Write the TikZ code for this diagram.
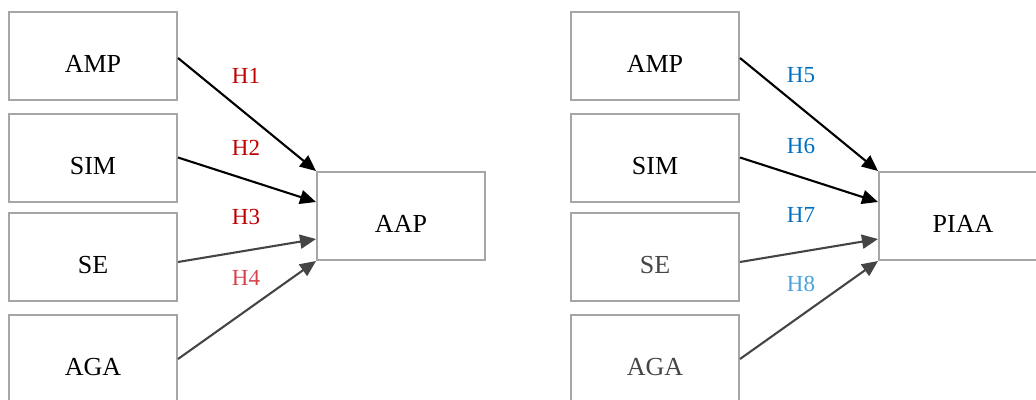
\documentclass[tikz,border=0pt]{standalone}
\usepackage{fontspec}
\setmainfont{Liberation Serif}
\usetikzlibrary{arrows.meta}
\definecolor{boxgray}{HTML}{A6A6A6}
\definecolor{hred}{HTML}{C00000}
\definecolor{hredlt}{HTML}{D6454C}
\definecolor{hblue}{HTML}{0070C0}
\definecolor{hbluelt}{HTML}{4BA3DA}
\definecolor{arrgray}{HTML}{454545}
\begin{document}
\begin{tikzpicture}[x=1pt,y=-1pt,
  vbox/.style={draw=boxgray,line width=2pt,minimum width=168pt,minimum height=88pt,
    inner sep=0pt,text height=33pt,text depth=0pt,font=\fontsize{26}{30}\selectfont},
  hlab/.style={font=\fontsize{23}{27}\selectfont,inner sep=0pt},
  conn/.style={line width=2.1pt,-{Triangle[length=16pt,width=14pt]}}]
\useasboundingbox (0,0) rectangle (1036,399);
% left panel
\node[vbox] (amp1) at (93,56) {AMP};
\node[vbox] (sim1) at (93,157.5) {SIM};
\node[vbox] (se1) at (93,257) {SE};
\node[vbox] (aga1) at (93,359) {AGA};
\node[vbox] (aap) at (401,216) {AAP};
\draw[conn,black] ([yshift=-2pt]amp1.east) -- (aap.north west);
\draw[conn,black] (sim1.east) -- ([yshift=14pt]aap.west);
\draw[conn,arrgray] ([yshift=-5pt]se1.east) -- ([yshift=-23pt]aap.west);
\draw[conn,arrgray] (aga1.east) -- (aap.south west);
\node[hlab,text=hred] (h1) at (246,76) {H1};
\node[hlab,text=hred] (h2) at (246,148) {H2};
\node[hlab,text=hred] (h3) at (246,217) {H3};
\node[hlab,text=hredlt] (h4) at (246,278) {H4};
% right panel
\node[vbox] (amp2) at (655,56) {AMP};
\node[vbox] (sim2) at (655,157.5) {SIM};
\node[vbox,text=arrgray] (se2) at (655,257) {SE};
\node[vbox,text=arrgray] (aga2) at (655,359) {AGA};
\node[vbox] (piaa) at (963,216) {PIAA};
\draw[conn,black] ([yshift=-2pt]amp2.east) -- (piaa.north west);
\draw[conn,black] (sim2.east) -- ([yshift=14pt]piaa.west);
\draw[conn,arrgray] ([yshift=-5pt]se2.east) -- ([yshift=-23pt]piaa.west);
\draw[conn,arrgray] (aga2.east) -- (piaa.south west);
\node[hlab,text=hblue] (h5) at (801,75) {H5};
\node[hlab,text=hblue] (h6) at (801,146) {H6};
\node[hlab,text=hblue] (h7) at (801,215) {H7};
\node[hlab,text=hbluelt] (h8) at (801,284) {H8};
\end{tikzpicture}
\end{document}
